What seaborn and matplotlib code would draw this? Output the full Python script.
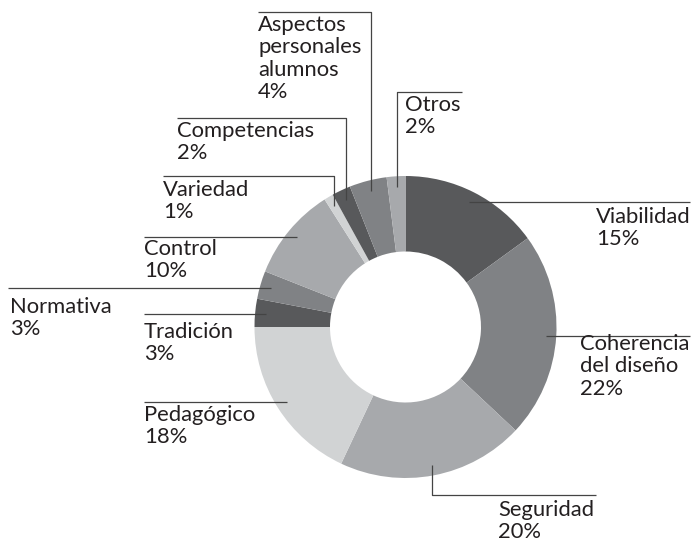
import matplotlib
matplotlib.use("Agg")
import matplotlib.pyplot as plt
import seaborn as sns
import numpy as np

# ---- data ----
categories = ["Viabilidad", "Coherencia\ndel diseño", "Seguridad", "Pedagógico",
              "Tradición", "Normativa", "Control", "Variedad", "Competencias",
              "Aspectos\npersonales\nalumnos", "Otros"]
values = [15, 22, 20, 18, 3, 3, 10, 1, 2, 4, 2]
pct_labels = ["15%", "22%", "20%", "18%", "3%", "3%", "10%", "1%", "2%", "4%", "2%"]

# ---- style ----
sns.set_theme(style="white")
plt.rcParams["font.family"] = ["Lato", "DejaVu Sans"]
greys = ["#58595b", "#808285", "#a7a9ac", "#d1d3d4"]
colors = [greys[i % 4] for i in range(len(values))]

W, H = 693, 542
fig = plt.figure(figsize=(W / 100, H / 100), dpi=100)
ax = fig.add_axes([0, 0, 1, 1])

cx, cy_px, R = 405.5, 327, 151
cy = H - cy_px
wedges, _ = ax.pie(values, colors=colors, startangle=90, counterclock=False,
                   radius=R, center=(cx, cy),
                   wedgeprops=dict(width=R * 0.5, linewidth=0))
ax.set_xlim(0, W)
ax.set_ylim(0, H)
ax.set_aspect("equal")
ax.axis("off")

# label layout in pixel coords: (route, corner_y, end_x, text_x, text_top)
layout = [
    ("h", None, 690, 596, 210),
    ("h", None, 690, 580, 337),
    ("vh", 495, 596, 498, 503),
    ("h", None, 144, 144, 408),
    ("h", None, 144, 144, 325),
    ("h", None, 8, 10, 300),
    ("h", None, 144, 144, 242),
    ("vh", 176, 163, 163, 183),
    ("vh", 118, 177, 177, 124),
    ("vh", 12, 258, 258, 18),
    ("vh", 92, 462, 405, 98),
]

line_kw = dict(color="#444444", lw=0.9, solid_capstyle="butt")
for w, cat, pct, (route, corner, endx, tx, ttop) in zip(wedges, categories, pct_labels, layout):
    mid = np.deg2rad((w.theta1 + w.theta2) / 2)
    ax_x = cx + 0.93 * R * np.cos(mid)
    ax_y = cy + 0.93 * R * np.sin(mid)
    if route == "h":
        ax.plot([ax_x, endx], [ax_y, ax_y], **line_kw)
    else:
        cyd = H - corner
        ax.plot([ax_x, ax_x, endx], [ax_y, cyd, cyd], **line_kw)
    ax.text(tx, H - ttop + 3, cat + "\n" + pct, ha="left", va="top",
            fontsize=15.8, color="#231f20", linespacing=1.15)

fig.savefig("out.png", dpi=100)
